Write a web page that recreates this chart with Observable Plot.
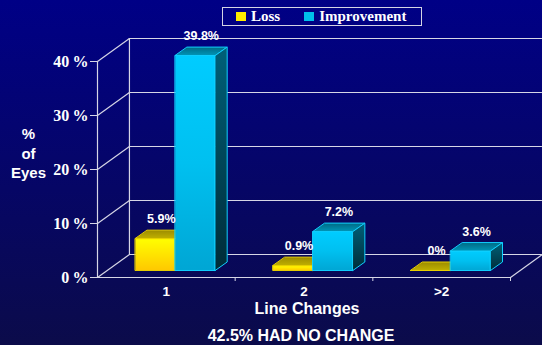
<!DOCTYPE html>
<html>
<head>
<meta charset="utf-8">
<script src="https://cdn.jsdelivr.net/npm/d3@7"></script>
<script src="https://cdn.jsdelivr.net/npm/@observablehq/plot@0.6"></script>
<style>
  html, body { margin: 0; padding: 0; }
  body { width: 542px; height: 345px; overflow: hidden; background: linear-gradient(#000086, #0b0b4a); }
  #wrap { position: relative; width: 542px; height: 345px; }
  #chart { position: absolute; left: 0; top: 0; }
  #legend {
    position: absolute; left: 222px; top: 7px; width: 198px; height: 17px;
    border: 1.5px solid #d4d4e4; box-sizing: content-box;
    font: bold 15px "Liberation Serif", serif; color: #fff;
    display: flex; align-items: center; line-height: 17px;
  }
  #legend .sw { display: inline-block; width: 10px; height: 9px; margin-right: 5px; }
  #legend .item { display: flex; align-items: center; }
  .serif-tick { font-family: "Liberation Serif", serif !important; }
</style>
</head>
<body>
<div id="wrap">
  <div id="chart"></div>
  <div id="legend"></div>
</div>
<script>
// Share of eyes by number of line changes
const categories = ["1", "2", ">2"];
const seriesNames = ["Loss", "Improvement"];
const lossValues = [5.9, 0.9, 0];
const improvementValues = [39.8, 7.2, 3.6];
const yTicks = [0, 10, 20, 30, 40];
const xTitle = "Line Changes";
const yTitle = "%\nof\nEyes";
const note = "42.5% HAD NO CHANGE";

// Pseudo-3D geometry in data units (x: category widths, y: percentage points)
const WALL_DX = 0.232, WALL_DY = 4.26;   // depth of the back wall
const BAR_DX = 0.065, BAR_DY = 1.3;      // bar front plane offset
const BAR_W = 0.29;                      // bar width
const DEPTH_DX = 0.087, DEPTH_DY = 1.57; // bar depth

function faces(values, s) {
  const front = [], top = [], side = [], labels = [];
  values.forEach((v, i) => {
    const x0 = i + 0.5 + BAR_DX - (s === 0 ? BAR_W : 0);
    const x1 = x0 + BAR_W;
    const y0 = BAR_DY, y1 = BAR_DY + v;
    const id = `${s}-${i}`;
    const pts = (arr) => arr.map(([x, y]) => ({id, x, y}));
    front.push(...pts([[x0, y0], [x1, y0], [x1, y1], [x0, y1]]));
    top.push(...pts([[x0, y1], [x1, y1], [x1 + DEPTH_DX, y1 + DEPTH_DY], [x0 + DEPTH_DX, y1 + DEPTH_DY]]));
    side.push(...pts([[x1, y0], [x1 + DEPTH_DX, y0 + DEPTH_DY], [x1 + DEPTH_DX, y1 + DEPTH_DY], [x1, y1]]));
    labels.push({x: (x0 + x1) / 2 + DEPTH_DX / 2, y: y1 + DEPTH_DY, text: `${v}%`});
  });
  return {front, top, side, labels};
}

const loss = faces(lossValues, 0);
const imp = faces(improvementValues, 1);

const lineColor = "#d6d6e6";
const barMarks = (f, key, edge) => [
  Plot.line(f.front, {x: "x", y: "y", z: "id", curve: "linear-closed", fill: `url(#${key}Front)`, stroke: edge, strokeWidth: 1}),
  Plot.line(f.top, {x: "x", y: "y", z: "id", curve: "linear-closed", fill: `url(#${key}Top)`, stroke: edge, strokeWidth: 1}),
  Plot.line(f.side, {x: "x", y: "y", z: "id", curve: "linear-closed", fill: `url(#${key}Side)`, stroke: edge, strokeWidth: 1})
];

const sans = "Liberation Sans, Arial, sans-serif";
const tickLabel = (d) => `${d}\u2009%`;

const plot = Plot.plot({
  width: 542,
  height: 345,
  marginLeft: 97,
  marginRight: 32,
  marginTop: 61,
  marginBottom: 68,
  style: {background: "none", color: "#fff", overflow: "visible"},
  x: {type: "linear", domain: [0, 3]},
  y: {type: "linear", domain: [0, 40]},
  marks: [
    // back wall gridlines and depth diagonals
    Plot.ruleY(yTicks, {x1: WALL_DX, x2: 3 + WALL_DX, y: (d) => d + WALL_DY, stroke: lineColor, strokeWidth: 1.2}),
    Plot.ruleX([WALL_DX], {y1: WALL_DY, y2: 40 + WALL_DY, stroke: lineColor, strokeWidth: 1.2}),
    Plot.link(yTicks, {x1: 0, y1: (d) => d, x2: WALL_DX, y2: (d) => d + WALL_DY, stroke: lineColor, strokeWidth: 1.2}),
    Plot.link([0], {x1: 3, y1: 0, x2: 3 + WALL_DX, y2: WALL_DY, stroke: lineColor, strokeWidth: 1.2}),
    // front axis lines
    Plot.ruleX([0], {y1: 0, y2: 40, stroke: lineColor, strokeWidth: 1.2}),
    Plot.ruleY([0], {x1: 0, x2: 3, stroke: lineColor, strokeWidth: 1.2}),
    // bars
    ...barMarks(loss, "loss", "#e8d000"),
    ...barMarks(imp, "imp", "#10d0ff"),
    // value labels
    Plot.text([...loss.labels, ...imp.labels], {x: "x", y: "y", text: "text", dy: -11, fill: "#fff",
      fontFamily: sans, fontWeight: "bold", fontSize: 12.5}),
    // y axis: ticks plus serif percentage labels
    Plot.axisY(yTicks, {tickSize: 7, tickFormat: () => "", stroke: lineColor, label: null}),
    Plot.text(yTicks, {x: 0, y: (d) => d, text: tickLabel, textAnchor: "end", dx: -9, fill: "#fff",
      fontFamily: "Liberation Serif", fontWeight: "bold", fontSize: 16}),
    // x axis: separators and category labels
    Plot.axisX([1, 2, 3], {tickSize: 4, tickFormat: () => "", stroke: lineColor, label: null}),
    Plot.axisX([0.5, 1.5, 2.5], {tickSize: 0, tickPadding: 9, tickFormat: (d) => categories[Math.floor(d)], fill: "#fff",
      fontFamily: sans, fontWeight: "bold", fontSize: 13.5, label: null}),
    // titles
    Plot.text([yTitle], {frameAnchor: "left", dx: -69, dy: -17, textAnchor: "middle", lineHeight: 1.3, fill: "#fff",
      fontFamily: sans, fontWeight: "bold", fontSize: 15}),
    Plot.text([xTitle], {frameAnchor: "bottom", dx: 3, dy: 36, fill: "#fff",
      fontFamily: sans, fontWeight: "bold", fontSize: 16}),
    Plot.text([note], {frameAnchor: "bottom", dx: -3, dy: 63, fill: "#fff",
      fontFamily: sans, fontWeight: "bold", fontSize: 16})
  ]
});

// serif face for the percentage tick labels
const tickTexts = new Set(yTicks.map(tickLabel));
d3.select(plot).selectAll("text")
  .filter(function () { return tickTexts.has(this.textContent); })
  .classed("serif-tick", true)
  .style("font-family", "'Liberation Serif', serif");

// face gradients
const defs = d3.select(plot).insert("defs", ":first-child");
function grad(id, stops, vertical = true) {
  const g = defs.append("linearGradient").attr("id", id)
    .attr("x1", 0).attr("y1", 0).attr("x2", vertical ? 0 : 1).attr("y2", vertical ? 1 : 0);
  stops.forEach(([o, c]) => g.append("stop").attr("offset", o).attr("stop-color", c));
}
grad("impFront", [[0, "#00ccff"], [0.5, "#00c0f0"], [1, "#00a6d4"]]);
grad("impTop", [[0, "#006a84"], [1, "#0096b8"]]);
grad("impSide", [[0, "#006078"], [1, "#002c38"]]);
grad("lossFront", [[0, "#ffff00"], [1, "#ffc800"]]);
grad("lossTop", [[0, "#9c8c00"], [1, "#c0b000"]]);
grad("lossSide", [[0, "#706000"], [1, "#403400"]]);

document.getElementById("chart").append(plot);

// legend
const legendColors = ["#ffee00", "#00c0ea"];
const legend = document.getElementById("legend");
seriesNames.forEach((name, i) => {
  const item = document.createElement("span");
  item.className = "item";
  item.style.marginLeft = i === 0 ? "13px" : "24px";
  const sw = document.createElement("span");
  sw.className = "sw";
  sw.style.background = legendColors[i];
  item.append(sw, document.createTextNode(name));
  legend.append(item);
});
</script>
</body>
</html>
